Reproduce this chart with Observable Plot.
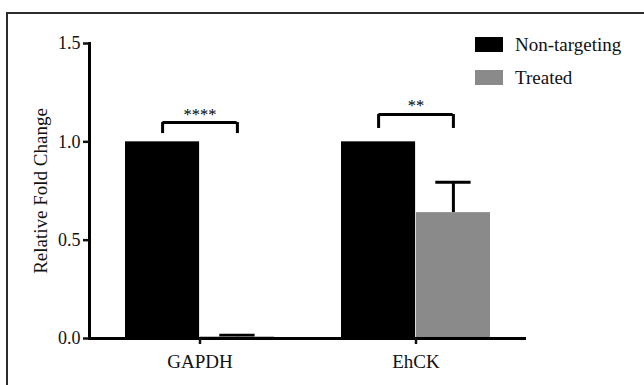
<!DOCTYPE html>
<html><head><meta charset="utf-8">
<script src="https://cdn.jsdelivr.net/npm/d3@7"></script>
<script src="https://cdn.jsdelivr.net/npm/@observablehq/plot@0.6"></script>
<style>
html,body{margin:0;padding:0;background:#fff;font-family:'Liberation Serif',serif;}
#wrap{position:relative;width:644px;height:385px;overflow:hidden;}
#wrap svg{position:absolute;left:0;top:0;}
#wrap svg text{font-family:'Liberation Serif',serif;}
#border{position:absolute;left:6px;top:12px;width:700px;height:500px;border-top:2.5px solid #2b2b2b;border-left:2.5px solid #2b2b2b;}
#legend{position:absolute;left:475px;top:28px;font-family:'Liberation Serif',serif;font-size:19px;color:#111;}
.row{display:flex;align-items:center;height:33px;}
.sw{width:28px;height:15px;margin-right:12px;}
</style></head><body>
<div id="wrap"></div>
<script>
const categories = ["GAPDH", "EhCK"];
const series = ["Non-targeting", "Treated"];
const seriesColors = ["#000000", "#8a8a8a"];
const nonTargeting = [1.0, 1.0];
const nonTargetingError = [0, 0];
const treated = [0.008, 0.64];
const treatedError = [0.008, 0.155];
const sigLabels = ["****", "**"];
const sigBracketTop = [1.098, 1.139];
const sigBracketBottom = [1.042, 1.068];
const yTicks = [0, 0.5, 1.0, 1.5];
const yLabel = "Relative Fold Change";

const rows = categories.flatMap((c, i) => [
  {category: c, series: series[0], value: nonTargeting[i], error: nonTargetingError[i]},
  {category: c, series: series[1], value: treated[i], error: treatedError[i]}
]);
const ntRows = rows.filter(d => d.series === series[0]);
const trRows = rows.filter(d => d.series === series[1]);
const sig = categories.map((c, i) => ({category: c, label: sigLabels[i], top: sigBracketTop[i], bottom: sigBracketBottom[i]}));

const half = 74.9, quarter = 37.4, cap = 18;
const serif = "'Liberation Serif', serif";

const plot = Plot.plot({
  width: 644, height: 385,
  marginLeft: 89, marginRight: 118, marginTop: 43, marginBottom: 47,
  style: {fontFamily: serif, fontSize: "18px", color: "#111", background: "transparent"},
  x: {domain: categories, paddingInner: 0.31, paddingOuter: 0.162, label: null},
  y: {domain: [0, 1.5], label: null},
  color: {domain: series, range: seriesColors},
  marks: [
    Plot.barY(ntRows, {x: "category", y: "value", fill: "series", insetRight: half}),
    Plot.ruleX(trRows, {x: "category", y1: "value", y2: d => d.value + d.error, dx: quarter, stroke: "#000", strokeWidth: 3}),
    Plot.tickY(trRows, {x: "category", y: d => d.value + d.error, insetLeft: half + quarter - cap, insetRight: quarter - cap, stroke: "#000", strokeWidth: 3}),
    Plot.barY(trRows, {x: "category", y: "value", fill: "series", insetLeft: half}),
    Plot.tickY(sig, {x: "category", y: "top", insetLeft: quarter, insetRight: quarter, stroke: "#000", strokeWidth: 3}),
    Plot.ruleX(sig, {x: "category", y1: "bottom", y2: "top", dx: -quarter, stroke: "#000", strokeWidth: 3}),
    Plot.ruleX(sig, {x: "category", y1: "bottom", y2: "top", dx: quarter, stroke: "#000", strokeWidth: 3}),
    Plot.text(sig, {x: "category", y: "top", text: "label", lineAnchor: "bottom", dy: -3, fontSize: 16.5, fill: "#000"}),
    Plot.ruleY([0], {stroke: "#000", strokeWidth: 3}),
    Plot.frame({anchor: "left", stroke: "#000", strokeWidth: 3}),
    Plot.axisY({ticks: yTicks, tickFormat: d3.format(".1f"), tickSize: 6, tickPadding: 3, strokeWidth: 2.5, label: null, fontSize: 18}),
    Plot.axisX({tickSize: 6, tickPadding: 9.5, strokeWidth: 2.5, label: null, fontSize: 19}),
    Plot.text([yLabel], {frameAnchor: "left", textAnchor: "middle", rotate: -90, dx: -49, fontSize: 19, fill: "#111"})
  ]
});

const wrap = document.getElementById("wrap");
wrap.appendChild(plot);
const border = document.createElement("div");
border.id = "border";
wrap.appendChild(border);
const legend = document.createElement("div");
legend.id = "legend";
series.forEach((s, i) => {
  const row = document.createElement("div");
  row.className = "row";
  const sw = document.createElement("div");
  sw.className = "sw";
  sw.style.background = plot.scale("color").apply(s);
  const lab = document.createElement("span");
  lab.textContent = s;
  row.appendChild(sw);
  row.appendChild(lab);
  legend.appendChild(row);
});
wrap.appendChild(legend);
</script>
</body></html>
